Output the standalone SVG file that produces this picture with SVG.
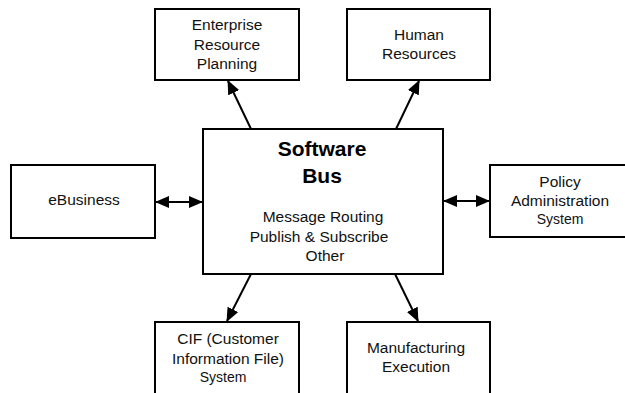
<svg xmlns="http://www.w3.org/2000/svg" width="625" height="393" viewBox="0 0 625 393">
<defs>
<marker id="ah" markerUnits="userSpaceOnUse" markerWidth="14" markerHeight="12" refX="13" refY="6" orient="auto-start-reverse" viewBox="0 0 14 12">
<path d="M0,0 L14,6 L0,12 z" fill="#000"/>
</marker>
<style>
.box{fill:#fff;stroke:#000;stroke-width:2}
.t{font-family:"Liberation Sans",Arial,sans-serif;font-size:15.5px;fill:#111;text-anchor:middle}
.s{font-size:14px}
.b{font-weight:bold;font-size:21px;fill:#000}
.c{stroke:#000;stroke-width:2;fill:none}
</style>
</defs>
<rect width="625" height="393" fill="#fff"/>
<g id="connectors">
<line class="c" x1="251" y1="129" x2="228" y2="81" marker-end="url(#ah)"/>
<line class="c" x1="396" y1="129" x2="419" y2="81" marker-end="url(#ah)"/>
<line class="c" x1="156" y1="202" x2="202" y2="202" marker-start="url(#ah)" marker-end="url(#ah)"/>
<line class="c" x1="444" y1="201" x2="489" y2="201" marker-start="url(#ah)" marker-end="url(#ah)"/>
<line class="c" x1="251" y1="274" x2="227" y2="321" marker-end="url(#ah)"/>
<line class="c" x1="395" y1="274" x2="418" y2="321" marker-end="url(#ah)"/>
</g>
<g id="bus">
<rect class="box" x="203" y="129" width="240" height="145"/>
<text class="t b" x="322" y="156">Software</text>
<text class="t b" x="322" y="183">Bus</text>
<text class="t" x="323" y="222">Message Routing</text>
<text class="t" x="319" y="242">Publish &amp; Subscribe</text>
<text class="t" x="325" y="261">Other</text>
</g>
<g id="erp">
<rect class="box" x="155" y="9" width="144" height="71"/>
<text class="t" x="227" y="30">Enterprise</text>
<text class="t" x="227" y="50">Resource</text>
<text class="t" x="227" y="69">Planning</text>
</g>
<g id="hr">
<rect class="box" x="347" y="9" width="143" height="71"/>
<text class="t" x="419" y="40">Human</text>
<text class="t" x="419" y="59">Resources</text>
</g>
<g id="ebusiness">
<rect class="box" x="11" y="165" width="144" height="73"/>
<text class="t" x="84" y="205">eBusiness</text>
</g>
<g id="policy">
<rect class="box" x="490" y="165" width="145" height="72"/>
<text class="t" x="560" y="187">Policy</text>
<text class="t" x="560" y="206">Administration</text>
<text class="t s" x="560" y="224">System</text>
</g>
<g id="cif">
<rect class="box" x="155" y="322" width="144" height="80"/>
<text class="t" x="228" y="344">CIF (Customer</text>
<text class="t" x="228" y="364">Information File)</text>
<text class="t s" x="223" y="382">System</text>
</g>
<g id="mes">
<rect class="box" x="347" y="322" width="143" height="80"/>
<text class="t" x="416" y="353">Manufacturing</text>
<text class="t" x="416" y="372">Execution</text>
</g>
</svg>
